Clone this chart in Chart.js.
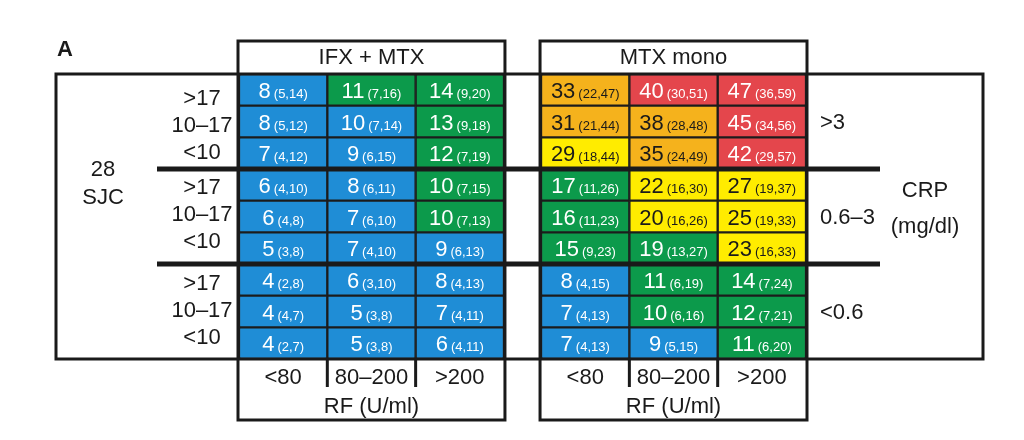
<!DOCTYPE html>
<html>
<head>
<meta charset="utf-8">
<script src="https://cdn.jsdelivr.net/npm/chart.js@4"></script>
<style>
  html, body { margin: 0; padding: 0; background: #fff; }
  canvas { display: block; }
</style>
</head>
<body>
<canvas id="grid" width="1024" height="440"></canvas>
<script>
const sjcLabels = ['>17', '10–17', '<10'];
const crpLabels = ['>3', '0.6–3', '<0.6'];
const rfLabels = ['<80', '80–200', '>200'];
const panelNames = ['IFX + MTX', 'MTX mono'];

// rows: CRP >3 (SJC >17, 10-17, <10), CRP 0.6-3 (...), CRP <0.6 (...); cols: RF <80, 80-200, >200
const ifxEst = [[8, 11, 14], [8, 10, 13], [7, 9, 12], [6, 8, 10], [6, 7, 10], [5, 7, 9], [4, 6, 8], [4, 5, 7], [4, 5, 6]];
const ifxLo  = [[5, 7, 9], [5, 7, 9], [4, 6, 7], [4, 6, 7], [4, 6, 7], [3, 4, 6], [2, 3, 4], [4, 3, 4], [2, 3, 4]];
const ifxHi  = [[14, 16, 20], [12, 14, 18], [12, 15, 19], [10, 11, 15], [8, 10, 13], [8, 10, 13], [8, 10, 13], [7, 8, 11], [7, 8, 11]];
const ifxBand = ['BGG', 'BBG', 'BBG', 'BBG', 'BBG', 'BBB', 'BBB', 'BBB', 'BBB'];

const mtxEst = [[33, 40, 47], [31, 38, 45], [29, 35, 42], [17, 22, 27], [16, 20, 25], [15, 19, 23], [8, 11, 14], [7, 10, 12], [7, 9, 11]];
const mtxLo  = [[22, 30, 36], [21, 28, 34], [18, 24, 29], [11, 16, 19], [11, 16, 19], [9, 13, 16], [4, 6, 7], [4, 6, 7], [4, 5, 6]];
const mtxHi  = [[47, 51, 59], [44, 48, 56], [44, 49, 57], [26, 30, 37], [23, 26, 33], [23, 27, 33], [15, 19, 24], [13, 16, 21], [13, 15, 20]];
const mtxBand = ['ORR', 'OOR', 'YOR', 'GYY', 'GYY', 'GGY', 'BGG', 'BGG', 'BBG'];

const bandColors = { B: '#1f8dd6', G: '#0c9a4b', Y: '#ffec00', O: '#f5b21c', R: '#e4464c' };
const darkText = { Y: true, O: true };

const FONT = '"Liberation Sans", Arial, Helvetica, sans-serif';
const panelGap = 0.42;

const rowKeys = [];
crpLabels.forEach(c => sjcLabels.forEach(s => rowKeys.push(c + ' / ' + s)));

const panels = [
  { est: ifxEst, lo: ifxLo, hi: ifxHi, band: ifxBand, start: 0 },
  { est: mtxEst, lo: mtxLo, hi: mtxHi, band: mtxBand, start: 3 + panelGap }
];

const datasets = [];
panels.forEach((p, pi) => {
  rfLabels.forEach((rf, ci) => {
    const x0 = p.start + ci;
    datasets.push({
      label: panelNames[pi] + ' RF ' + rf,
      data: rowKeys.map(() => [x0, x0 + 1]),
      backgroundColor: p.band.map(b => bandColors[b[ci]]),
      borderColor: '#1c1c1c',
      borderWidth: 1.5,
      borderSkipped: false,
      grouped: false,
      barPercentage: 1,
      categoryPercentage: 1,
      est: p.est.map(r => r[ci]),
      lo: p.lo.map(r => r[ci]),
      hi: p.hi.map(r => r[ci]),
      band: p.band.map(b => b[ci])
    });
  });
});

const frame = {
  id: 'frame',
  beforeDraw(chart) {
    const ctx = chart.ctx;
    ctx.save();
    ctx.fillStyle = '#fff';
    ctx.fillRect(0, 0, chart.width, chart.height);
    ctx.restore();
  },
  afterDatasetsDraw(chart) {
    const { ctx, chartArea: a, scales: { x, y } } = chart;
    const px = v => x.getPixelForValue(v);
    const rowEdge = i => (y.getPixelForValue(i - 1) + y.getPixelForValue(i)) / 2;
    ctx.save();

    // cell labels: estimate + (CI)
    chart.data.datasets.forEach((ds, di) => {
      chart.getDatasetMeta(di).data.forEach((el, r) => {
        const cx = (el.x + el.base) / 2;
        const cy = el.y;
        const main = String(ds.est[r]);
        const ci = '(' + ds.lo[r] + ',' + ds.hi[r] + ')';
        ctx.font = '22px ' + FONT;
        const w1 = ctx.measureText(main).width;
        ctx.font = '13px ' + FONT;
        const w2 = ctx.measureText(ci).width;
        const gap = 3;
        const sx = cx - (w1 + gap + w2) / 2;
        ctx.fillStyle = darkText[ds.band[r]] ? '#1a1a1a' : '#ffffff';
        ctx.textAlign = 'left';
        ctx.textBaseline = 'alphabetic';
        ctx.font = '22px ' + FONT;
        ctx.fillText(main, sx, cy + 8);
        ctx.font = '13px ' + FONT;
        ctx.fillText(ci, sx + w1 + gap, cy + 8);
      });
    });

    ctx.strokeStyle = '#1a1a1a';
    ctx.lineCap = 'butt';

    // CRP group separators
    ctx.lineWidth = 5;
    [3, 6].forEach(i => {
      const yy = rowEdge(i);
      ctx.beginPath();
      ctx.moveTo(157, yy);
      ctx.lineTo(880, yy);
      ctx.stroke();
    });

    // outer box
    ctx.lineWidth = 3;
    ctx.strokeRect(56, a.top, 927, a.bottom - a.top);

    // panel boxes, headers, RF axis
    const top = 41, bot = 420;
    panels.forEach((p, pi) => {
      const l = px(p.start) - 1, r = px(p.start + 3) + 1;
      ctx.strokeRect(l, top, r - l, bot - top);
      ctx.fillStyle = '#1a1a1a';
      ctx.font = '22px ' + FONT;
      ctx.textAlign = 'center';
      ctx.textBaseline = 'middle';
      ctx.fillText(panelNames[pi], (l + r) / 2, 58);
      rfLabels.forEach((lab, ci) => {
        ctx.fillText(lab, px(p.start + ci + 0.5), a.bottom + 19);
      });
      ctx.fillText('RF (U/ml)', (l + r) / 2, 407);
      [1, 2].forEach(ci => {
        const xx = px(p.start + ci);
        ctx.beginPath();
        ctx.moveTo(xx, a.bottom);
        ctx.lineTo(xx, a.bottom + 28);
        ctx.stroke();
      });
    });

    // SJC / CRP labels
    ctx.fillStyle = '#1a1a1a';
    ctx.font = '22px ' + FONT;
    ctx.textAlign = 'center';
    ctx.textBaseline = 'middle';
    const sjcOffset = [4, -2, -1];
    crpLabels.forEach((c, g) => {
      const gc = (rowEdge(g * 3) + rowEdge(g * 3 + 3)) / 2;
      sjcLabels.forEach((s, k) => {
        ctx.fillText(s, 202, gc + (k - 1) * 27 + sjcOffset[g]);
      });
      ctx.textAlign = 'left';
      ctx.fillText(c, 820, gc + 1);
      ctx.textAlign = 'center';
    });
    ctx.fillText('28', 103, 170);
    ctx.fillText('SJC', 103, 198);
    ctx.fillText('CRP', 925, 191);
    ctx.fillText('(mg/dl)', 925, 227);

    ctx.font = 'bold 22px ' + FONT;
    ctx.textAlign = 'left';
    ctx.fillText('A', 57, 50);
    ctx.restore();
  }
};

new Chart(document.getElementById('grid'), {
  type: 'bar',
  data: { labels: rowKeys, datasets },
  options: {
    indexAxis: 'y',
    responsive: false,
    animation: false,
    layout: { padding: { left: 239, right: 218, top: 74, bottom: 81 } },
    scales: {
      x: { type: 'linear', min: 0, max: 6 + panelGap, display: false },
      y: { type: 'category', display: false }
    },
    plugins: { legend: { display: false }, tooltip: { enabled: false } }
  },
  plugins: [frame]
});
</script>
</body>
</html>
